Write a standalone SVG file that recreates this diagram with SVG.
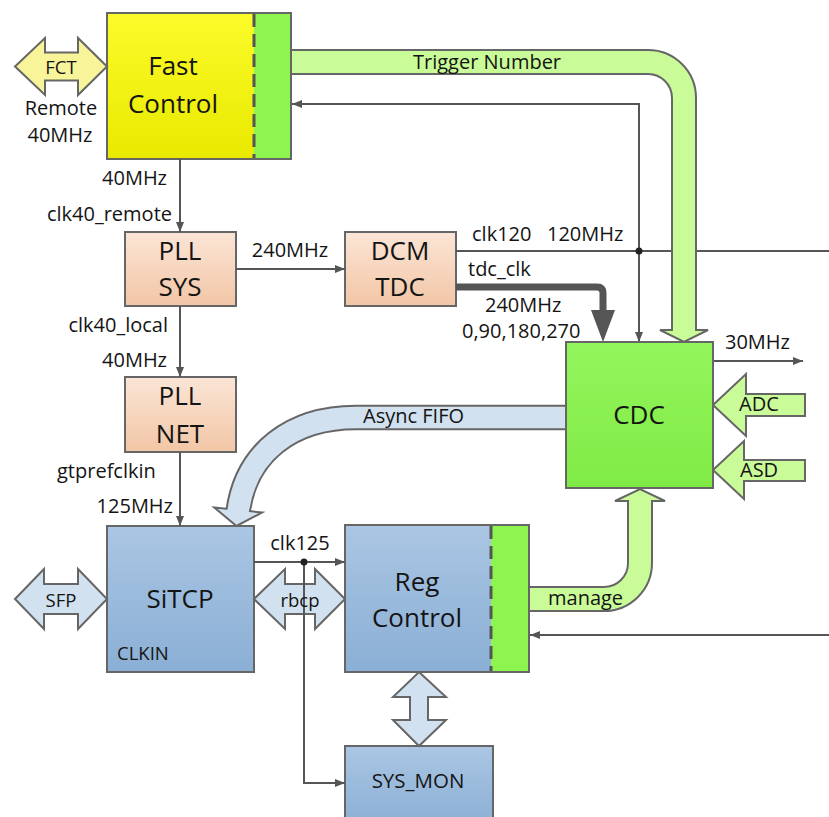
<svg xmlns="http://www.w3.org/2000/svg" width="829" height="817" viewBox="0 0 829 817">
<defs>
<linearGradient id="gY" x1="0" y1="0" x2="0" y2="1"><stop offset="0" stop-color="#fbfb2a"/><stop offset="1" stop-color="#e9e900"/></linearGradient>
<linearGradient id="gG" x1="0" y1="0" x2="0" y2="1"><stop offset="0" stop-color="#93f65c"/><stop offset="1" stop-color="#80ea45"/></linearGradient>
<linearGradient id="gP" x1="0" y1="0" x2="0" y2="1"><stop offset="0" stop-color="#fbe5d6"/><stop offset="1" stop-color="#f2c6a6"/></linearGradient>
<linearGradient id="gB" x1="0" y1="0" x2="0" y2="1"><stop offset="0" stop-color="#aac6e3"/><stop offset="1" stop-color="#8bafd5"/></linearGradient>
<marker id="ah" viewBox="0 0 10 8" markerWidth="10" markerHeight="8" refX="10" refY="4" orient="auto" markerUnits="userSpaceOnUse"><path d="M0,0 L10,4 L0,8 z" fill="#555"/></marker>
</defs>
<style>
text{font-family:"Open Sans","Liberation Sans",sans-serif;fill:#141414}
.big{font-size:26px;text-anchor:middle}
.sm{font-size:20px}
.mid{text-anchor:middle}
.end{text-anchor:end}
.box{stroke:#666;stroke-width:2}
.frame{fill:none;stroke:#666;stroke-width:2}
.dash{stroke:#555;stroke-width:3;stroke-dasharray:13 7;fill:none}
.ln{fill:none;stroke:#555;stroke-width:2}
.arw{marker-end:url(#ah)}
.lb{fill:#d2e1ef;stroke:#666;stroke-width:2;stroke-linejoin:miter}
.lg{fill:#c9fb98;stroke:#666;stroke-width:2}
</style>
<rect width="829" height="817" fill="#fff"/>

<g id="fast-control">
<rect x="107" y="13" width="147" height="146" fill="url(#gY)"/>
<rect x="254" y="13" width="37" height="146" fill="#8ef550"/>
<rect x="107" y="13" width="184" height="146" class="frame"/>
<line x1="254" y1="14" x2="254" y2="158" class="dash"/>
<text class="big" x="173" y="75">Fast</text>
<text class="big" x="173" y="113">Control</text>
</g>

<g id="pll-sys">
<rect x="125" y="232" width="111" height="74" fill="url(#gP)" class="box"/>
<text class="big" x="180" y="260">PLL</text>
<text class="big" x="180" y="296">SYS</text>
</g>

<g id="dcm-tdc">
<rect x="345" y="232" width="111" height="74" fill="url(#gP)" class="box"/>
<text class="big" x="400" y="260">DCM</text>
<text class="big" x="400" y="296">TDC</text>
</g>

<g id="pll-net">
<rect x="125" y="377" width="111" height="75" fill="url(#gP)" class="box"/>
<text class="big" x="180" y="405">PLL</text>
<text class="big" x="180" y="443">NET</text>
</g>

<g id="sitcp">
<rect x="107" y="526" width="147" height="146" fill="url(#gB)" class="box"/>
<text class="big" x="180" y="608">SiTCP</text>
<text x="117" y="660" style="font-size:18.5px">CLKIN</text>
</g>

<g id="reg-control">
<rect x="345" y="525" width="146" height="147" fill="url(#gB)"/>
<rect x="491" y="525" width="38" height="147" fill="#8ef550"/>
<rect x="345" y="525" width="184" height="147" class="frame"/>
<line x1="491" y1="526" x2="491" y2="671" class="dash"/>
<text class="big" x="417" y="591">Reg</text>
<text class="big" x="417" y="627">Control</text>
</g>

<g id="sys-mon">
<rect x="345" y="746" width="148" height="80" fill="url(#gB)" class="box"/>
<text x="418" y="788" class="mid" style="font-size:20.5px">SYS_MON</text>
</g>

<g id="fct">
<polygon class="lg" style="fill:#f7f49a" points="15,66.5 45,38 45,52.5 78,52.5 78,38 107,66.5 78,95 78,80.5 45,80.5 45,95"/>
<text x="61" y="74" class="mid" style="font-size:18.5px">FCT</text>
</g>

<g id="sfp">
<polygon class="lb" points="15,599 44,569 44,584 78,584 78,569 107,599 78,629 78,614 44,614 44,629"/>
<text x="61" y="607" class="mid" style="font-size:18.5px">SFP</text>
</g>

<g id="rbcp-arrow">
<polygon class="lb" points="254,599 285,569 285,584 315,584 315,569 345,599 315,629 315,614 285,614 285,629"/>
</g>

<g id="reg-sysmon-arrow">
<polygon class="lb" points="419,672 446,697 428,697 428,720 446,720 419,746 393,720 410,720 410,697 393,697"/>
</g>

<g id="adc">
<polygon class="lg" points="713,405 746,374 746,394 805,394 805,416 746,416 746,436"/>
<text x="739" y="411" class="sm">ADC</text>
</g>

<g id="asd">
<polygon class="lg" points="713,470 744,441 744,460 805,460 805,481 744,481 744,499"/>
<text x="740" y="477" class="sm">ASD</text>
</g>

<g id="connectors">
<path class="ln arw" d="M180,159 V232"/>
<path class="ln arw" d="M236,269 H345"/>
<path class="ln arw" d="M180,306 V377"/>
<path class="ln arw" d="M180,452 V526"/>
<path class="ln" d="M456,251 H829"/>
<path class="ln arw" d="M639,251 V104 H292"/>
<path class="ln arw" d="M639,251 V342"/>
<circle cx="639" cy="251" r="3.5" fill="#222"/>
<path d="M456,287 H597 Q603,287 603,293 V312" fill="none" stroke="#555" stroke-width="7"/>
<polygon points="591,310 615,310 603,342" fill="#555"/>
<path class="ln arw" d="M713,361 H803"/>
<path class="ln arw" d="M254,562 H345"/>
<path class="ln arw" d="M304,562 V783 H345"/>
<circle cx="304" cy="562" r="3.5" fill="#222"/>
<path class="ln arw" d="M829,635 H530"/>
<path id="trigger-number" class="lg" d="M291,50 H648 A48,48 0 0 1 696,98 V330 H708 L684,342 L660,330 H672 V98 A24,24 0 0 0 648,74 H291 Z"/>
<path id="manage" class="lg" d="M529,587 H604 A24,24 0 0 0 628,563 V501 H615 L640,489 L665,501 H652 V563 A48,48 0 0 1 604,611 H529 Z"/>
<g id="async-fifo">
<path d="M567,417.5 H356 C292,417.5 246,452 238,512" fill="none" stroke="#666" stroke-width="25.5"/>
<polygon class="lb" points="214.3,507.5 262.1,512.5 236.5,526"/>
<path d="M567,417.5 H356 C292,417.5 246,452 238,512" fill="none" stroke="#d2e1ef" stroke-width="21.5"/>
</g>
</g>

<g id="cdc">
<rect x="566" y="342" width="147" height="146" fill="url(#gG)" class="box"/>
<text class="big" x="639" y="424">CDC</text>
</g>

<g id="labels" class="sm">
<text x="61" y="115" class="mid">Remote</text>
<text x="60" y="142" class="mid">40MHz</text>
<text x="167" y="185" class="end">40MHz</text>
<text x="172" y="221" class="end">clk40_remote</text>
<text x="290" y="257" class="mid">240MHz</text>
<text x="168" y="332" class="end">clk40_local</text>
<text x="167" y="367" class="end">40MHz</text>
<text x="57" y="478">gtprefclkin</text>
<text x="173" y="513" class="end">125MHz</text>
<text x="472" y="241">clk120</text>
<text x="547" y="241">120MHz</text>
<text x="468" y="276">tdc_clk</text>
<text x="485" y="312">240MHz</text>
<text x="462" y="338">0,90,180,270</text>
<text x="413" y="69">Trigger Number</text>
<text x="725" y="349">30MHz</text>
<text x="363" y="423">Async FIFO</text>
<text x="300" y="550" class="mid">clk125</text>
<text x="300" y="607" class="mid" style="font-size:18.5px">rbcp</text>
<text x="548" y="605">manage</text>
</g>
</svg>
